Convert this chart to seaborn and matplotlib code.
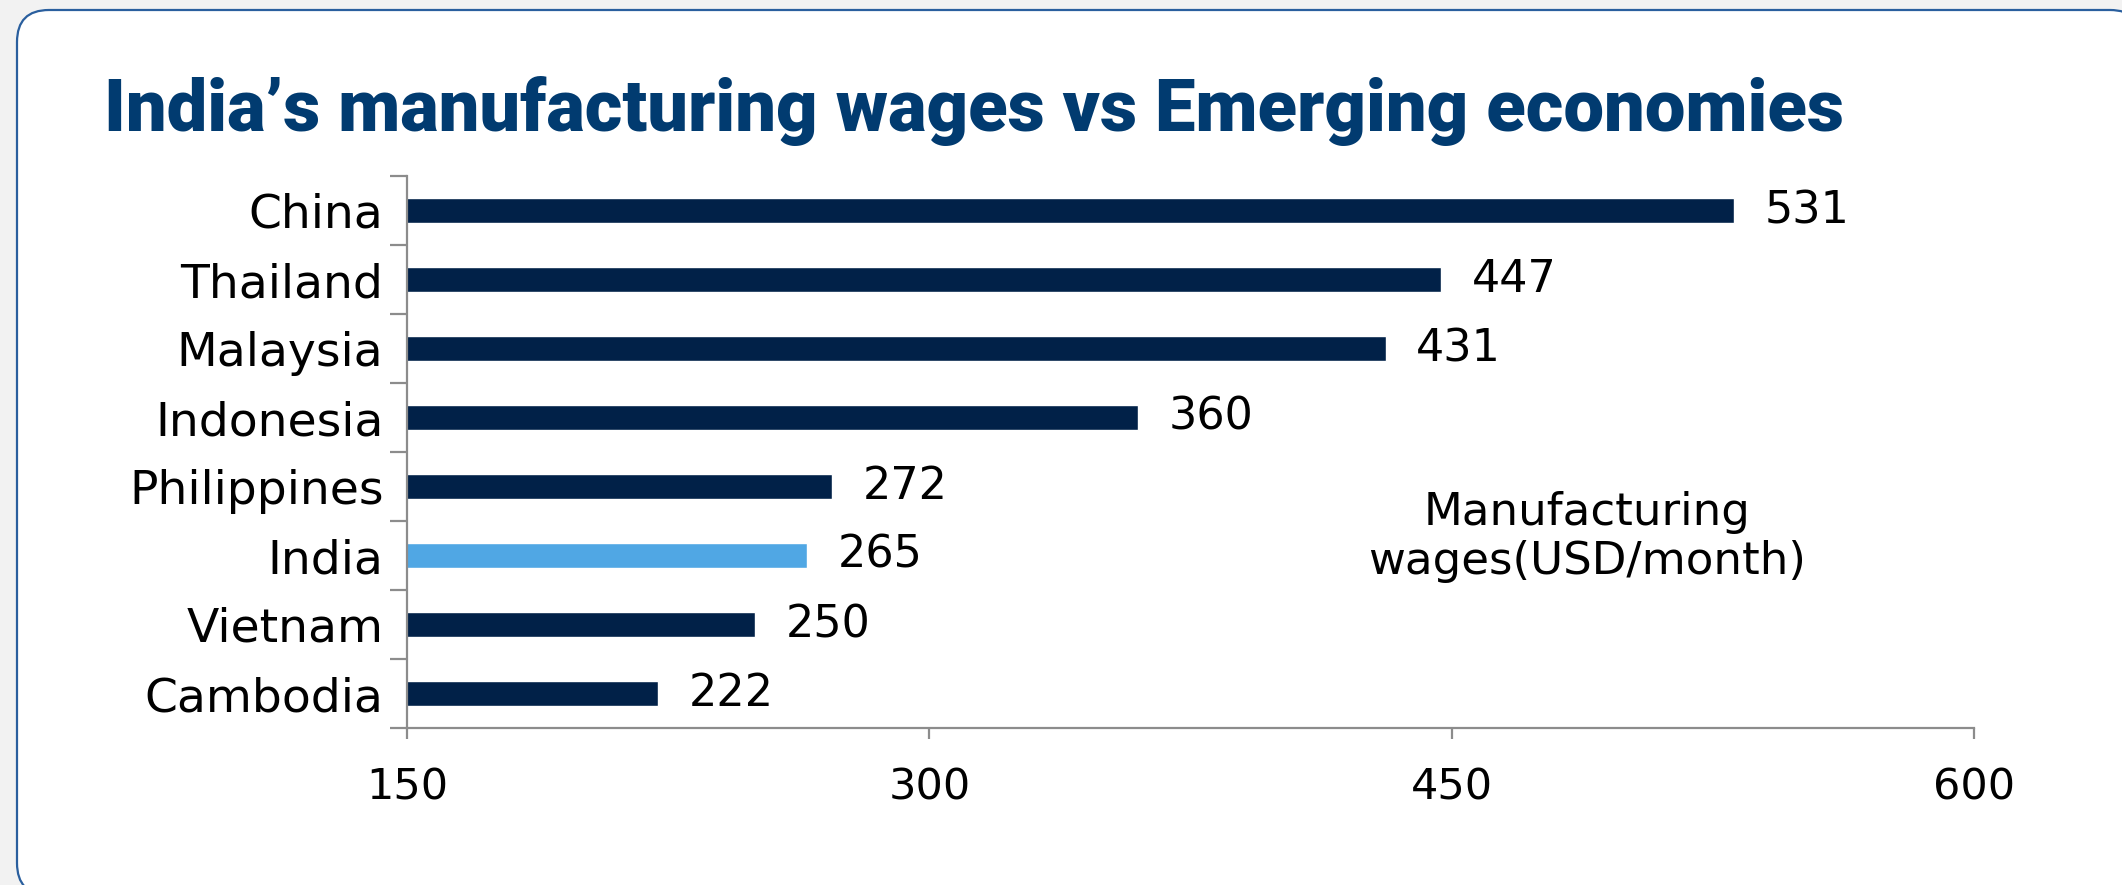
import numpy as np
import pandas as pd
import seaborn as sns
from matplotlib import pyplot as plt
from matplotlib.patches import FancyBboxPatch
from matplotlib.ticker import FixedLocator

# data
countries = ['China', 'Thailand', 'Malaysia', 'Indonesia',
             'Philippines', 'India', 'Vietnam', 'Cambodia']
wages = [531, 447, 431, 360, 272, 265, 250, 222]
x_ticks = [150, 300, 450, 600]

NAVY = '#012148'
LIGHT_BLUE = '#50a7e4'
TITLE_BLUE = '#013b70'
GREY = '#8c8c8c'

df = pd.DataFrame({'country': countries, 'wage': wages})
palette = {c: (LIGHT_BLUE if c == 'India' else NAVY) for c in countries}

sns.set_style('white')
plt.rcParams['font.family'] = ['DejaVu Sans']
plt.rcParams['text.color'] = 'black'
plt.rcParams['xtick.color'] = 'black'
plt.rcParams['ytick.color'] = 'black'

W, H = 2122, 885
fig = plt.figure(figsize=(W / 100, H / 100), dpi=100)
fig.patch.set_facecolor('#f2f2f2')

# rounded card behind the chart (pixel coordinates)
card = FancyBboxPatch((17, -10), 2125, H - 10 + 10,
                      boxstyle='round,pad=0,rounding_size=32',
                      transform=None, facecolor='white',
                      edgecolor='#2a5f9e', linewidth=1.6, zorder=-5)
fig.patches.append(card)

ax = fig.add_axes([407 / W, 1 - 728 / H, (1974 - 407) / W, (728 - 176) / H])
ax.set_facecolor('none')
ax.set_zorder(2)

sns.barplot(data=df, y='country', x='wage', hue='country', palette=palette,
            orient='h', width=0.37, legend=False, ax=ax, saturation=1)

ax.set_xlim(150, 600)
ax.set_ylim(7.5, -0.5)
ax.set_xticks(x_ticks)
ax.set_xlabel('')
ax.set_ylabel('')

for side in ['top', 'right']:
    ax.spines[side].set_visible(False)
for side in ['left', 'bottom']:
    ax.spines[side].set_color(GREY)
    ax.spines[side].set_linewidth(1.6)

# y ticks sit between the categories
ax.yaxis.set_minor_locator(FixedLocator(np.arange(-0.5, 8, 1)))
ax.tick_params(axis='y', which='major', length=0, pad=17, labelsize=34,
               labelcolor='black')
ax.tick_params(axis='y', which='minor', length=12, width=1.6, color=GREY,
               left=True)
ax.tick_params(axis='x', which='major', length=8, width=1.6, color=GREY,
               bottom=True, pad=20, labelsize=31, labelcolor='black')

for cont in ax.containers:
    ax.bar_label(cont, fmt='%d', padding=22, fontsize=32, color='black')

ax.text(0.753, 0.346, 'Manufacturing\nwages(USD/month)',
        transform=ax.transAxes, ha='center', va='center',
        fontsize=32.5, linespacing=1.2, color='black')

fig.text(104 / W, 1 - 131 / H,
         'India\u2019s manufacturing wages vs Emerging economies',
         ha='left', va='baseline', fontsize=52, fontweight='black',
         color=TITLE_BLUE, family=['Roboto', 'DejaVu Sans'])

fig.savefig('out.png', dpi=100, facecolor=fig.get_facecolor())
